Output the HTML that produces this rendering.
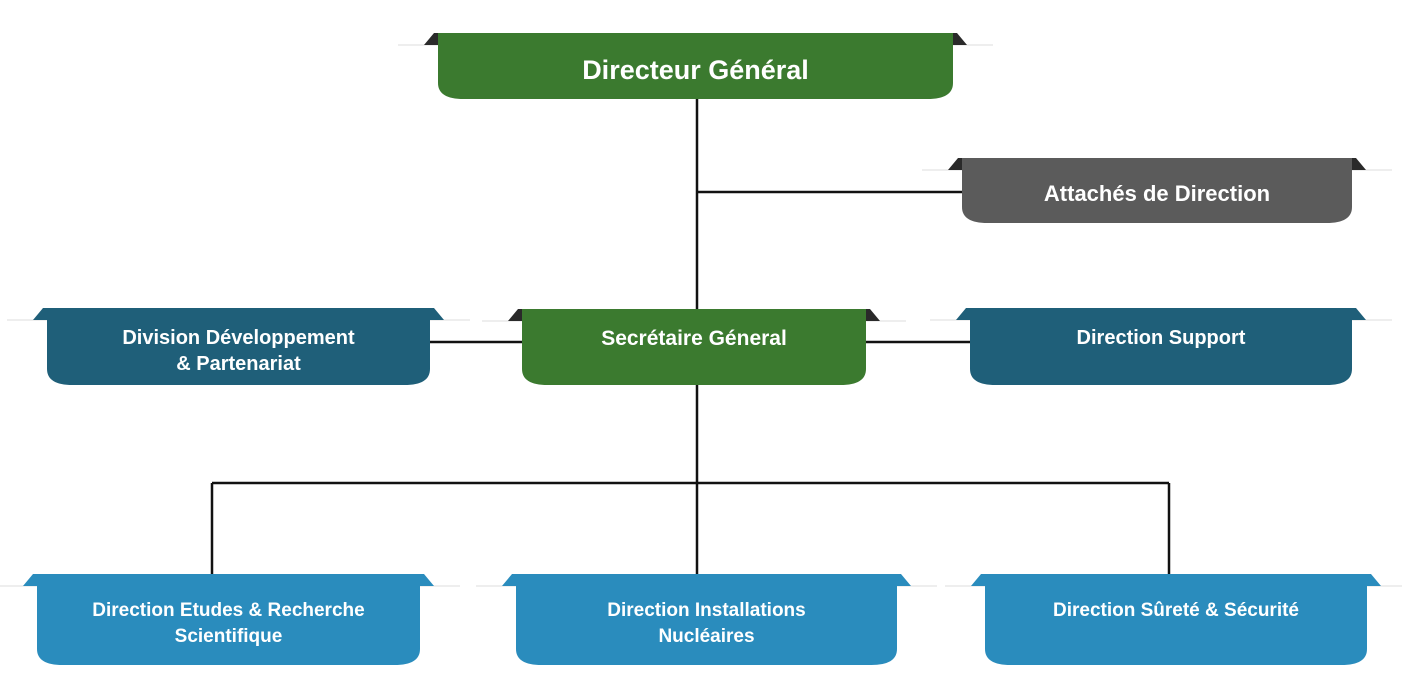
<!DOCTYPE html>
<html><head><meta charset="utf-8"><style>
html,body{margin:0;padding:0;background:#fff;width:1402px;height:684px;overflow:hidden}
text{font-family:"Liberation Sans",sans-serif;font-weight:bold;fill:#fff}
</style></head><body>
<svg width="1402" height="684" viewBox="0 0 1402 684" xmlns="http://www.w3.org/2000/svg">
<g stroke="#111" stroke-width="2.5" fill="none">
<line x1="697" y1="99" x2="697" y2="310"/>
<line x1="697" y1="192" x2="962" y2="192"/>
<line x1="430" y1="342" x2="522" y2="342"/>
<line x1="866" y1="342" x2="970" y2="342"/>
<line x1="697" y1="385" x2="697" y2="575"/>
<line x1="212" y1="483" x2="1169" y2="483"/>
<line x1="212" y1="483" x2="212" y2="575"/>
<line x1="1169" y1="483" x2="1169" y2="575"/>
</g>
<g id="boxes"></g>
</svg>
<script>
var boxes=[
[438,33,953,99,"#3b7a2f","#2a2a2a",["Directeur Général"],27,79],
[962,158,1352,223,"#5b5b5b","#2a2a2a",["Attachés de Direction"],22,201],
[47,308,430,385,"#1f5f79","#1f5f79",["Division Développement","& Partenariat"],20,344],
[522,309,866,385,"#3b7a2f","#2a2a2a",["Secrétaire Géneral"],21,345],
[970,308,1352,385,"#1f5f79","#1f5f79",["Direction Support"],20,344],
[37,574,420,665,"#2a8cbd","#2a8cbd",["Direction Etudes & Recherche","Scientifique"],19,616],
[516,574,897,665,"#2a8cbd","#2a8cbd",["Direction Installations","Nucléaires"],19,616],
[985,574,1367,665,"#2a8cbd","#2a8cbd",["Direction Sûreté & Sécurité"],19,616]];
var s="";
boxes.forEach(function(b){
var x1=b[0],y1=b[1],x2=b[2],y2=b[3],r=16;
s+='<line x1="'+(x1-40)+'" y1="'+(y1+12)+'" x2="'+(x2+40)+'" y2="'+(y1+12)+'" stroke="#eee" stroke-width="2"/>';
s+='<path d="M'+(x1-14)+','+(y1+12)+' L'+(x1-4)+','+y1+' L'+(x2+4)+','+y1+' L'+(x2+14)+','+(y1+12)+' Z" fill="'+b[5]+'"/>';
s+='<path d="M'+x1+','+y1+' L'+x2+','+y1+' L'+x2+','+(y2-r)+' Q'+x2+','+y2+' '+(x2-r*1.6)+','+y2+' L'+(x1+r*1.6)+','+y2+' Q'+x1+','+y2+' '+x1+','+(y2-r)+' Z" fill="'+b[4]+'"/>';
var cx=(x1+x2)/2;
b[6].forEach(function(t,i){
s+='<text x="'+cx+'" y="'+(b[8]+i*26)+'" font-size="'+b[7]+'" text-anchor="middle">'+t.replace(/&/g,'&amp;')+'</text>';
});
});
document.getElementById("boxes").innerHTML=s;
</script>
</body></html>
